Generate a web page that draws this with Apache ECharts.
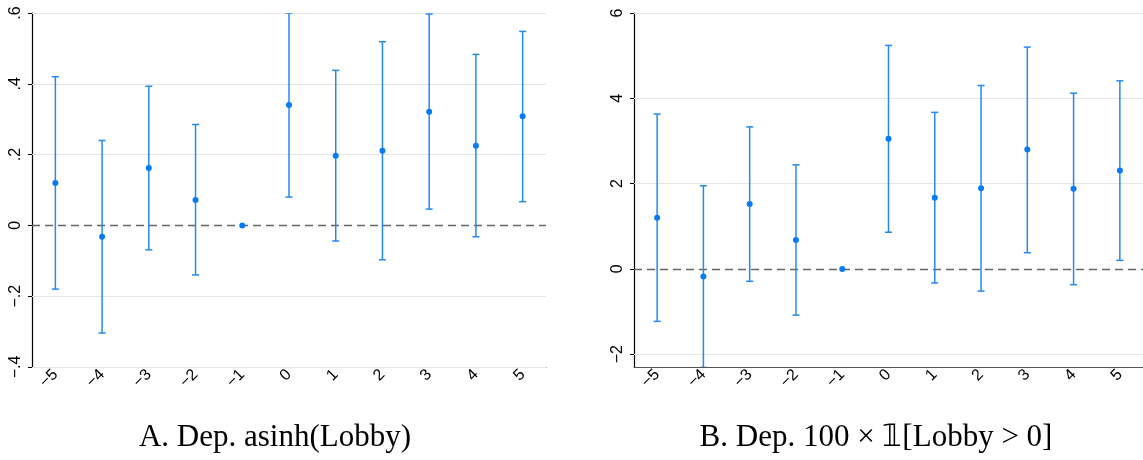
<!DOCTYPE html>
<html>
<head>
<meta charset="utf-8">
<script src="https://cdn.jsdelivr.net/npm/echarts@6/dist/echarts.min.js"></script>
<style>
html, body { margin: 0; padding: 0; background: #fff; }
#chart { width: 1143px; height: 460px; }
</style>
</head>
<body>
<div id="chart"></div>
<script>
// event-time periods
const periods = ['-5', '-4', '-3', '-2', '-1', '0', '1', '2', '3', '4', '5'];

// panel A: asinh(Lobby)
const asinhCoef = [0.120, -0.032, 0.162, 0.072, 0, 0.340, 0.197, 0.211, 0.321, 0.225, 0.308];
const asinhLow = [-0.180, -0.304, -0.069, -0.140, 0, 0.080, -0.044, -0.097, 0.046, -0.032, 0.067];
const asinhHigh = [0.420, 0.240, 0.393, 0.285, 0, 0.600, 0.438, 0.519, 0.597, 0.483, 0.548];
const asinhTicks = [-0.4, -0.2, 0, 0.2, 0.4, 0.6];

// panel B: 100 x 1[Lobby > 0]
const anyCoef = [1.20, -0.18, 1.52, 0.68, 0, 3.05, 1.67, 1.89, 2.80, 1.88, 2.31];
const anyLow = [-1.23, -2.31, -0.29, -1.085, 0, 0.86, -0.33, -0.52, 0.38, -0.37, 0.20];
const anyHigh = [3.63, 1.95, 3.33, 2.44, 0, 5.24, 3.67, 4.30, 5.20, 4.12, 4.41];
const anyTicks = [-2, 0, 2, 4, 6];

const titles = ['A. Dep. asinh(Lobby)', 'B. Dep. 100 \u00d7 \ud835\udfd9[Lobby > 0]'];

const barColor = '#2589f5';
const dotColor = '#0a7bf7';

function minusLabel(s) {
    return String(s).replace('-', '\u2212');
}

function asinhLabel(v) {
    const r = Math.round(v * 10) / 10;
    if (r === 0) return '0';
    const s = Math.abs(r).toFixed(1).replace(/^0/, '');
    return (r < 0 ? '\u2212' : '') + s;
}

function errorBar(params, api) {
    const x = api.value(0);
    const lo = api.value(1);
    const hi = api.value(2);
    if (lo === hi) return null;
    const p1 = api.coord([x, lo]);
    const p2 = api.coord([x, hi]);
    const half = 3.5;
    const style = { stroke: barColor, lineWidth: 1.5 };
    return {
        type: 'group',
        children: [
            { type: 'line', shape: { x1: p1[0], y1: p1[1], x2: p2[0], y2: p2[1] }, style: style },
            { type: 'line', shape: { x1: p1[0] - half, y1: p1[1], x2: p1[0] + half, y2: p1[1] }, style: style },
            { type: 'line', shape: { x1: p2[0] - half, y1: p2[1], x2: p2[0] + half, y2: p2[1] }, style: style }
        ]
    };
}

function xAxisFor(idx) {
    return {
        type: 'category',
        gridIndex: idx,
        data: periods,
        axisLine: { onZero: false, lineStyle: { color: '#555', width: 1.2 } },
        axisTick: { alignWithLabel: true, length: 5, lineStyle: { color: '#555' } },
        axisLabel: {
            rotate: 45,
            margin: 5,
            color: '#000',
            fontFamily: 'Liberation Sans',
            fontSize: 16,
            formatter: minusLabel
        }
    };
}

function yAxisFor(idx, min, max, ticks, formatter) {
    return {
        type: 'value',
        gridIndex: idx,
        min: min,
        max: max,
        axisLine: { show: true, onZero: false, lineStyle: { color: '#000', width: 1.2 } },
        axisTick: { show: true, length: 4, lineStyle: { color: '#000' }, customValues: ticks },
        axisLabel: {
            customValues: ticks,
            rotate: 90,
            margin: 8,
            color: '#000',
            fontFamily: 'Liberation Sans',
            fontSize: 16,
            formatter: formatter
        },
        splitLine: { show: false }
    };
}

// light gridlines at the nonzero ticks, dashed reference line at zero
function guideSeries(idx, ticks) {
    return [
        {
            type: 'line',
            xAxisIndex: idx,
            yAxisIndex: idx,
            data: [],
            z: 1,
            markLine: {
                silent: true,
                z: 1,
                symbol: 'none',
                label: { show: false },
                lineStyle: { color: '#e6e6e6', type: 'solid', width: 1.2 },
                data: ticks.filter(function (t) { return t !== 0; }).map(function (t) { return { yAxis: t }; })
            }
        },
        {
            type: 'line',
            xAxisIndex: idx,
            yAxisIndex: idx,
            data: [],
            z: 2,
            markLine: {
                silent: true,
                z: 2,
                symbol: 'none',
                label: { show: false },
                lineStyle: { color: '#666', type: [8, 5], width: 1.3 },
                data: [{ yAxis: 0 }]
            }
        }
    ];
}

function panelSeries(idx, coef, low, high) {
    return [
        {
            type: 'custom',
            xAxisIndex: idx,
            yAxisIndex: idx,
            renderItem: errorBar,
            clip: true,
            encode: { x: 0, y: [1, 2] },
            data: periods.map(function (p, i) { return [i, low[i], high[i]]; }),
            z: 3
        },
        {
            type: 'scatter',
            xAxisIndex: idx,
            yAxisIndex: idx,
            symbolSize: 6,
            itemStyle: { color: dotColor, opacity: 1 },
            data: coef,
            z: 4
        }
    ];
}

const chart = echarts.init(document.getElementById('chart'));

const option = {
    animation: false,
    grid: [
        { left: 32, top: 13, width: 514, height: 354 },
        { left: 634, top: 13, width: 514, height: 354 }
    ],
    xAxis: [xAxisFor(0), xAxisFor(1)],
    yAxis: [
        yAxisFor(0, asinhTicks[0], asinhTicks[asinhTicks.length - 1], asinhTicks, asinhLabel),
        yAxisFor(1, -2.3, 6, anyTicks, minusLabel)
    ],
    graphic: [
        { type: 'text', x: 275, y: 438, style: { text: titles[0], font: '31px "Liberation Serif"', fill: '#000', align: 'center', verticalAlign: 'middle' } },
        { type: 'text', x: 876, y: 438, style: { text: titles[1], font: '31px "Liberation Serif"', fill: '#000', align: 'center', verticalAlign: 'middle' } }
    ],
    series: []
        .concat(guideSeries(0, asinhTicks))
        .concat(guideSeries(1, anyTicks))
        .concat(panelSeries(0, asinhCoef, asinhLow, asinhHigh))
        .concat(panelSeries(1, anyCoef, anyLow, anyHigh))
};

chart.setOption(option);

window.addEventListener('resize', function () {
    chart.resize();
});
</script>
</body>
</html>
